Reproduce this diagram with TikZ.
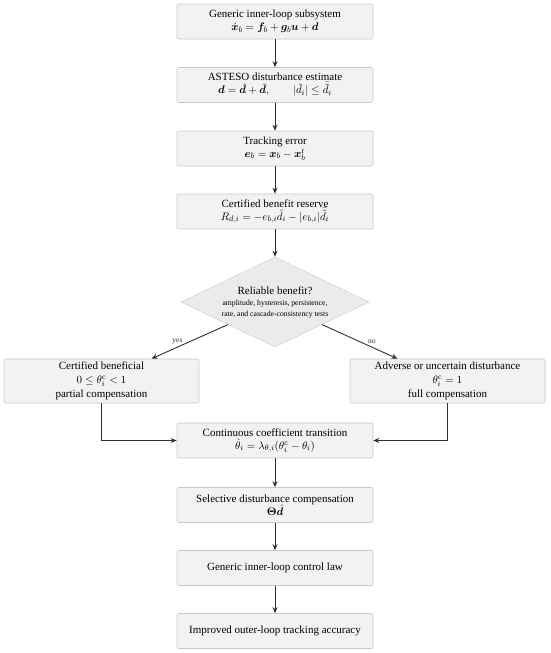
\documentclass[tikz,border=0pt]{standalone}
\usepackage{amsmath}
\usepackage{bm}
\usepackage[no-math]{fontspec}
\setmainfont{Liberation Serif}
\usetikzlibrary{shapes.geometric,arrows.meta,calc}
\definecolor{boxfill}{HTML}{F2F2F2}
\definecolor{boxline}{HTML}{C8C8C8}
\definecolor{diafill}{HTML}{EBEBEB}
\definecolor{dialine}{HTML}{D4D4D4}
\definecolor{arrowcol}{HTML}{303030}
\tikzset{
  stepbox/.style={draw=boxline, fill=boxfill, line width=0.6pt, rounded corners=2pt,
    minimum width=196pt, minimum height=35pt, align=center, inner sep=2pt,
    font=\fontsize{11}{13}\selectfont},
  sidebox/.style={stepbox, minimum width=195pt, minimum height=44pt,
    font=\fontsize{11}{14}\selectfont},
  decision/.style={shape=diamond, draw=dialine, fill=diafill, line width=0.6pt,
    aspect=2.1, inner sep=0pt, minimum width=188pt, minimum height=90pt, align=center},
  flow/.style={draw=arrowcol, line width=0.9pt, -{Stealth[length=6pt,width=5pt]}},
  branchlabel/.style={font=\fontsize{7.5}{8}\selectfont, inner sep=1pt, text=black!80}
}
\begin{document}
\begin{tikzpicture}[x=1pt,y=-1pt]
\useasboundingbox (0,0) rectangle (550,653);
\node[stepbox] (sub) at (275,21.5) {Generic inner-loop subsystem\\ $\dot{\bm x}_b = \bm f_b + \bm g_b \bm u + \bm d$};
\node[stepbox] (est) at (275,85) {ASTESO disturbance estimate\\ $\bm d = \hat{\bm d} + \tilde{\bm d}, \qquad |\tilde d_i| \le \bar{\tilde d}_i$};
\node[stepbox] (err) at (275,148.5) {Tracking error\\ $\bm e_b = \bm x_b - \bm x_b^{\mathrm r}$};
\node[stepbox] (res) at (275,211.5) {Certified benefit reserve\\ $R_{d,i} = -e_{b,i}\hat d_i - |e_{b,i}|\bar{\tilde d}_i$};
\node[decision] (dia) at (275,302) {{\fontsize{11}{13}\selectfont Reliable benefit?}\\[-1pt]
  {\fontsize{7.7}{9.5}\selectfont amplitude, hysteresis, persistence,}\\[-1pt]
  {\fontsize{7.7}{9.5}\selectfont rate, and cascade-consistency tests}};
\node[sidebox] (ben) at (101.5,381) {Certified beneficial\\ $0 \le \theta_i^{\mathrm c} < 1$\\ partial compensation};
\node[sidebox] (adv) at (447.5,381) {Adverse or uncertain disturbance\\ $\theta_i^{\mathrm c} = 1$\\ full compensation};
\node[stepbox] (tra) at (275,440.5) {Continuous coefficient transition\\ $\dot\theta_i = \lambda_{\theta,i}(\theta_i^{\mathrm c} - \theta_i)$};
\node[stepbox] (sel) at (275,505) {Selective disturbance compensation\\ $\bm\Theta \hat{\bm d}$};
\node[stepbox] (law) at (275,568) {Generic inner-loop control law};
\node[stepbox] (acc) at (275,631) {Improved outer-loop tracking accuracy};

\draw[flow] (sub) -- (est);
\draw[flow] (est) -- (err);
\draw[flow] (err) -- (res);
\draw[flow] (res) -- (dia);
\draw[flow] (dia.south west) -- node[branchlabel, pos=0.66, above=2pt] {yes} ([xshift=50pt]ben.north);
\draw[flow] (dia.south east) -- node[branchlabel, pos=0.66, above=2pt] {no} ([xshift=-50pt]adv.north);
\draw[flow] (ben.south) |- (tra.west);
\draw[flow] (adv.south) |- (tra.east);
\draw[flow] (tra) -- (sel);
\draw[flow] (sel) -- (law);
\draw[flow] (law) -- (acc);
\end{tikzpicture}
\end{document}
